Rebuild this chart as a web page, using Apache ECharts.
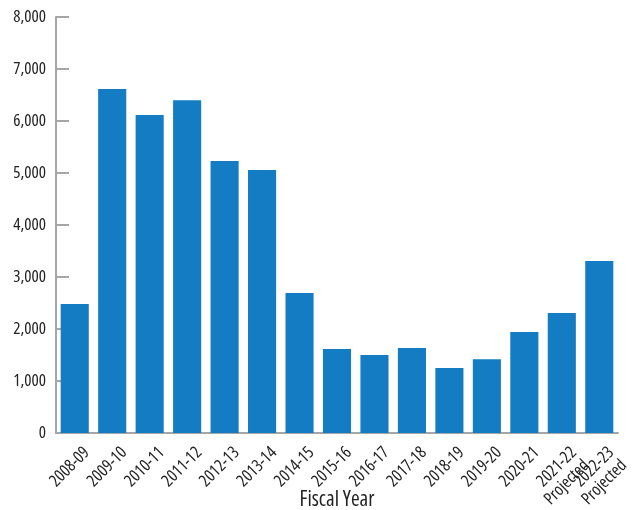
<!DOCTYPE html>
<html>
<head>
<meta charset="utf-8">
<script src="https://cdn.jsdelivr.net/npm/echarts@6/dist/echarts.min.js"></script>
<style>html,body{margin:0;padding:0;background:#fff;}#c{width:642px;height:510px;}</style>
</head>
<body>
<div id="c"></div>
<script>
const categories = ['2008-09','2009-10','2010-11','2011-12','2012-13','2013-14','2014-15','2015-16','2016-17','2017-18','2018-19','2019-20','2020-21','2021-22\nProjected','2022-23\nProjected'];
const values = [2480, 6615, 6115, 6400, 5230, 5060, 2690, 1615, 1500, 1635, 1250, 1420, 1940, 2310, 3310];
const yTicks = { min: 0, max: 8000, interval: 1000 };
const xName = 'Fiscal Year';

const font = "'Open Sans', 'Roboto Condensed', sans-serif";
const stretch = 'condensed';
const axisColor = '#a6a6a6';
const chart = echarts.init(document.getElementById('c'), null, {renderer: 'canvas'});
chart.setOption({
  animation: false,
  grid: { left: 56, right: 24, top: 17, bottom: 77, containLabel: false, outerBoundsMode: 'none' },
  xAxis: {
    type: 'category',
    data: categories,
    name: xName,
    nameLocation: 'middle',
    nameGap: 57,
    nameMoveOverlap: false,
    nameTextStyle: { fontFamily: font, fontStyle: stretch, fontSize: 21, color: '#222', verticalAlign: 'top' },
    axisLine: { lineStyle: { color: axisColor, width: 2 } },
    axisTick: { inside: true, length: 9, lineStyle: { color: axisColor, width: 2 } },
    axisLabel: { rotate: 45, margin: 5, padding: [8, 0, 0, 0], fontFamily: font, fontStyle: stretch, fontSize: 17, color: '#222', lineHeight: 18, verticalAlign: 'top', interval: 0, hideOverlap: false }
  },
  yAxis: {
    type: 'value',
    min: yTicks.min, max: yTicks.max, interval: yTicks.interval,
    splitLine: { show: false },
    axisLine: { show: true, lineStyle: { color: axisColor, width: 2 } },
    axisTick: { show: true, inside: true, length: 13, lineStyle: { color: axisColor, width: 2 } },
    axisLabel: { margin: 10, fontFamily: font, fontStyle: stretch, fontSize: 17, color: '#222',
      formatter: v => v.toLocaleString('en-US') }
  },
  series: [{
    type: 'bar',
    data: values,
    barWidth: '75%',
    itemStyle: { color: '#137cc3' }
  }]
});
</script>
</body>
</html>
